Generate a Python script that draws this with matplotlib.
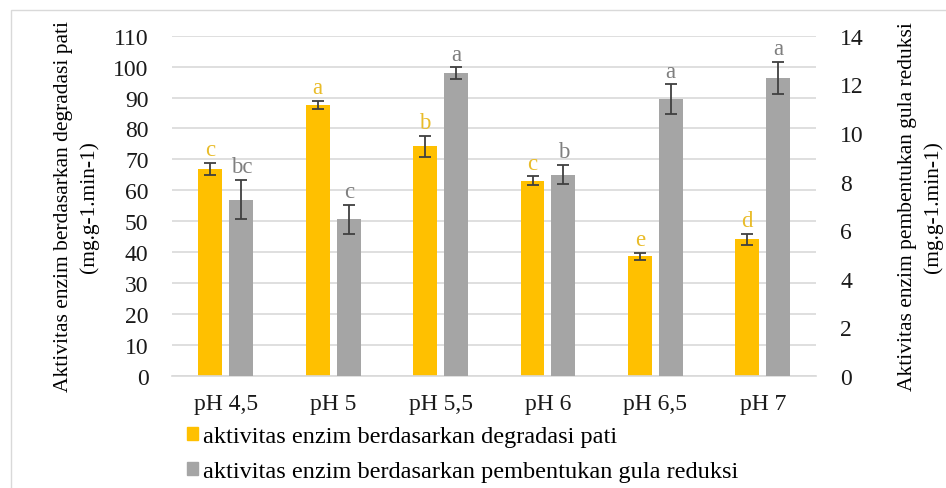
import matplotlib.pyplot as plt
import numpy as np
from matplotlib.patches import Rectangle

# pH treatments
categories = ['pH 4,5', 'pH 5', 'pH 5,5', 'pH 6', 'pH 6,5', 'pH 7']

# enzyme activity from starch degradation (left axis)
pati = [66.9, 87.6, 74.2, 63.1, 38.7, 44.2]
pati_err = [1.9, 1.3, 3.4, 1.4, 1.2, 1.8]
pati_letters = ['c', 'a', 'b', 'c', 'e', 'd']

# enzyme activity from reducing sugar formation (right axis)
gula = [7.26, 6.45, 12.45, 8.28, 11.38, 12.25]
gula_err = [0.80, 0.60, 0.25, 0.40, 0.62, 0.66]
gula_letters = ['bc', 'c', 'a', 'b', 'a', 'a']

label_pati = 'aktivitas enzim berdasarkan degradasi pati'
label_gula = 'aktivitas enzim berdasarkan pembentukan gula reduksi'

plt.rcParams['font.family'] = ['Liberation Serif', 'DejaVu Serif']

orange = '#FFC000'
grey = '#A5A5A5'
errc = '#404040'

fig = plt.figure(figsize=(9.46, 4.89), dpi=100)
ax = fig.add_axes([0.182, 0.229, 0.681, 0.696])
ax2 = ax.twinx()

x = np.arange(len(categories))
w = 0.223
off = 0.144

ax.bar(x - off, pati, w, color=orange, zorder=2)
ax.errorbar(x - off, pati, yerr=pati_err, fmt='none', ecolor=errc,
            elinewidth=1.3, capsize=4, capthick=1.3, zorder=3)
ax2.bar(x + off, gula, w, color=grey, zorder=2)
ax2.errorbar(x + off, gula, yerr=gula_err, fmt='none', ecolor=errc,
             elinewidth=1.3, capsize=4, capthick=1.3, zorder=3)

for xi, v, e, t in zip(x, pati, pati_err, pati_letters):
    ax.annotate(t, (xi - off, v + e), xytext=(0, 2), textcoords='offset points',
                ha='center', va='bottom', fontsize=16.5, color='#E9BC2A')
for xi, v, e, t in zip(x, gula, gula_err, gula_letters):
    ax2.annotate(t, (xi + off, v + e), xytext=(0, 2), textcoords='offset points',
                 ha='center', va='bottom', fontsize=16.5, color='#7F7F7F')

ax.set_xlim(-0.5, len(categories) - 0.5)
ax.set_ylim(0, 110)
ax.set_yticks(np.arange(0, 111, 10))
ax2.set_ylim(0, 14)
ax2.set_yticks(np.arange(0, 15, 2))

ax.set_xticks(x)
ax.set_xticklabels(categories)
ax.yaxis.grid(True, color='#D9D9D9', linewidth=1.2, zorder=0)
ax.set_axisbelow(True)

for a in (ax, ax2):
    for s in a.spines.values():
        s.set_visible(False)
    a.tick_params(length=0, labelsize=17, colors='#1a1a1a')
ax.spines['bottom'].set_visible(True)
ax.spines['bottom'].set_color('#D9D9D9')
ax.spines['bottom'].set_linewidth(1.2)
ax.tick_params(axis='y', pad=17)
ax2.tick_params(axis='y', pad=17)
ax.tick_params(axis='x', pad=12)

ax.set_ylabel('Aktivitas enzim berdasarkan degradasi pati\n(mg.g-1.min-1)',
              fontsize=15.5, linespacing=1.4)
ax2.set_ylabel('Aktivitas enzim pembentukan gula reduksi\n(mg.g-1.min-1)',
               fontsize=15.5, linespacing=1.4, rotation=90)
ax.yaxis.set_label_coords(-0.114, 0.5)
ax2.yaxis.set_label_coords(1.127, 0.5)

handles = [Rectangle((0, 0), 1, 1, color=orange), Rectangle((0, 0), 1, 1, color=grey)]
fig.legend(handles, [label_pati, label_gula], loc='upper left',
           bbox_to_anchor=(0.198, 0.126), frameon=False, fontsize=17.5,
           handlelength=0.45, handleheight=0.45, handletextpad=0.2,
           labelspacing=0.55, borderaxespad=0, borderpad=0)

# light outer frame
fig.patches.append(Rectangle((11 / 946, -0.1), 1.2, 1 - 11 / 489 + 0.1,
                             transform=fig.transFigure, fill=False,
                             edgecolor='#D9D9D9', linewidth=1))

fig.savefig('out.png', dpi=100)
